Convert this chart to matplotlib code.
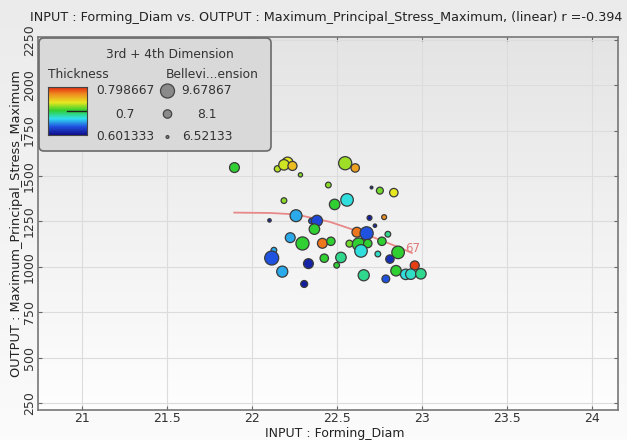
import numpy as np
import matplotlib
matplotlib.use("Agg")
import matplotlib.pyplot as plt
from matplotlib.colors import LinearSegmentedColormap, Normalize
from matplotlib.patches import FancyBboxPatch

# values
forming_diam = [21.895, 22.148, 22.207, 22.186, 22.236, 22.283, 22.546, 22.605, 22.447, 22.186,
                22.701, 22.750, 22.832, 22.484, 22.557, 22.101, 22.257, 22.348, 22.380, 22.365,
                22.689, 22.775, 22.721, 22.615, 22.672, 22.797, 22.223, 22.295, 22.412, 22.462,
                22.571, 22.625, 22.679, 22.762, 22.639, 22.127, 22.114, 22.423, 22.521, 22.496,
                22.330, 22.738, 22.809, 22.857, 22.955, 22.845, 22.902, 22.932, 22.991, 22.176,
                22.655, 22.785, 22.305]
max_stress = [1546, 1539, 1573, 1561, 1555, 1506, 1570, 1544, 1450, 1364,
              1436, 1419, 1408, 1343, 1368, 1255, 1281, 1252, 1253, 1207,
              1269, 1273, 1226, 1190, 1184, 1179, 1160, 1128, 1129, 1140,
              1127, 1124, 1128, 1140, 1087, 1091, 1048, 1047, 1051, 1008,
              1017, 1070, 1042, 1079, 1007, 978, 958, 959, 961, 973,
              953, 933, 905]
thickness = [0.700, 0.724, 0.733, 0.728, 0.749, 0.716, 0.720, 0.759, 0.716, 0.716,
             0.609, 0.712, 0.733, 0.700, 0.670, 0.612, 0.655, 0.635, 0.630, 0.700,
             0.609, 0.765, 0.612, 0.773, 0.635, 0.684, 0.655, 0.700, 0.773, 0.700,
             0.712, 0.700, 0.700, 0.700, 0.670, 0.655, 0.635, 0.700, 0.684, 0.700,
             0.612, 0.674, 0.618, 0.700, 0.789, 0.700, 0.670, 0.674, 0.684, 0.655,
             0.684, 0.635, 0.609]
bellevi_dim = [8.51, 7.52, 8.86, 8.69, 8.28, 6.93, 9.44, 8.10, 7.34, 7.34,
               6.52, 7.69, 8.10, 8.69, 9.27, 6.70, 9.09, 7.34, 8.86, 8.69,
               7.11, 7.11, 6.70, 8.51, 9.44, 7.34, 8.51, 9.44, 8.51, 8.10,
               7.69, 9.27, 8.10, 8.10, 9.27, 7.34, 9.68, 8.10, 8.69, 7.34,
               8.51, 7.34, 8.10, 9.27, 8.28, 8.69, 8.69, 8.69, 8.69, 8.86,
               8.86, 7.92, 7.69]
trend_x = [21.894, 22.104, 22.257, 22.456, 22.615, 22.750, 22.855, 22.938]
trend_y = [1298, 1296, 1288, 1247, 1197, 1148, 1109, 1076]
label_point = (22.944, 1065, "67")

thick_ticks = [0.798667, 0.7, 0.601333]
bellevi_ticks = [9.67867, 8.1, 6.52133]
x_ticks = [21, 21.5, 22, 22.5, 23, 23.5, 24]
y_ticks = [250, 500, 750, 1000, 1250, 1500, 1750, 2000, 2250]

W, H = 627, 440
cmap = LinearSegmentedColormap.from_list(
    "rb", ["#10108c", "#2050e0", "#30e0f0", "#30d030", "#e8e820", "#f09020", "#e02010"])
norm = Normalize(thick_ticks[2], thick_ticks[0])


def marker_size(b):
    r = 1.4 + (np.asarray(b) - bellevi_ticks[2]) / (bellevi_ticks[0] - bellevi_ticks[2]) * 5.6
    return (2 * r * 0.72) ** 2


fig = plt.figure(figsize=(W / 100, H / 100), dpi=100)
bg = fig.add_axes([0, 0, 1, 1], zorder=-10)
bg.imshow(np.linspace(0, 1, 100)[:, None], cmap=LinearSegmentedColormap.from_list(
    "bg", ["#ebebeb", "#fbfbfb"]), aspect="auto", extent=[0, 1, 0, 1])
bg.axis("off")

ax = fig.add_axes([38 / W, 1 - 410 / H, 580 / W, 373 / H])
ax.set_facecolor("none")
ax.imshow(np.linspace(0, 1, 100)[:, None], cmap=LinearSegmentedColormap.from_list(
    "bg2", ["#e4e4e4", "#fefefe"]), aspect="auto", extent=[0, 1, 0, 1],
    transform=ax.transAxes, zorder=0)

ax.plot(trend_x, trend_y, color="#e88888", lw=1.3, zorder=2)
ax.scatter(forming_diam, max_stress, s=marker_size(bellevi_dim), c=thickness,
           cmap=cmap, norm=norm, edgecolors="#3a3a3a", linewidths=0.9, zorder=3)
ax.text(label_point[0], label_point[1], label_point[2], color="#e07878",
        fontsize=8.5, ha="center", va="bottom", zorder=4)

ax.set_xlim(20.74, 24.15)
ax.set_ylim(211, 2265)
ax.set_xticks(x_ticks)
ax.set_xticklabels([f"{v:g}" for v in x_ticks])
ax.set_yticks(y_ticks)
ax.set_yticklabels([str(v) for v in y_ticks], rotation=90, va="center")
ax.grid(True, color="#dcdcdc", lw=0.8, zorder=1)
ax.set_axisbelow(True)
ax.tick_params(direction="in", length=3, top=True, right=True, color="#666666",
               labelsize=9, labelcolor="#333333", pad=1.5)
for sp in ax.spines.values():
    sp.set_color("#777777")
    sp.set_linewidth(1.2)
fig.text(335 / W, 1 - 433 / H, "INPUT : Forming_Diam", fontsize=9, color="#222222",
         ha="center", va="center")
ax.set_ylabel("OUTPUT : Maximum_Principal_Stress_Maximum", fontsize=9.3,
              color="#222222", labelpad=0)
fig.text(30 / W, 1 - 17 / H,
         "INPUT : Forming_Diam vs. OUTPUT : Maximum_Principal_Stress_Maximum, (linear) r =-0.394",
         fontsize=9.2, color="#222222", ha="left", va="center")

# legend box drawn in pixel coordinates
ov = fig.add_axes([0, 0, 1, 1], zorder=5)
ov.set_xlim(0, W)
ov.set_ylim(H, 0)
ov.axis("off")
ov.add_patch(FancyBboxPatch((39, 38), 232, 113, boxstyle="round,pad=0,rounding_size=5",
                            fc="#d9d9d9", ec="#6a6a6a", lw=1.2))
ov.text(170, 55, "3rd + 4th Dimension", fontsize=8.8, ha="center", va="center", color="#333333")
ov.text(78, 74, "Thickness", fontsize=8.8, ha="center", va="center", color="#333333")
ov.text(212, 74, "Bellevi...ension", fontsize=8.8, ha="center", va="center", color="#333333")
cb = fig.add_axes([47.5 / W, 1 - 135 / H, 39 / W, 48 / H], zorder=6)
cb.imshow(np.linspace(thick_ticks[2], thick_ticks[0], 100)[:, None], cmap=cmap, norm=norm,
          aspect="auto", origin="lower", extent=[0, 1, thick_ticks[2], thick_ticks[0]])
cb.plot([0.5, 1], [thick_ticks[1]] * 2, color="#222222", lw=1)
cb.set_xlim(0, 1)
cb.set_ylim(thick_ticks[2], thick_ticks[0])
cb.set_xticks([])
cb.set_yticks([])
for sp in cb.spines.values():
    sp.set_color("#444444")
    sp.set_linewidth(0.8)
rows = [91, 114, 137]
for yy, tv, bv in zip(rows, thick_ticks, bellevi_ticks):
    ov.text(125, yy, f"{tv:g}", fontsize=8.8, ha="center", va="center", color="#333333")
    ov.text(207, yy, f"{bv:g}", fontsize=8.8, ha="center", va="center", color="#333333")
ov.scatter([167.5] * 3, rows, s=marker_size(bellevi_ticks), c="#8a8a8a",
           edgecolors="#444444", linewidths=0.9, zorder=7)

fig.savefig("out.png", dpi=100)
